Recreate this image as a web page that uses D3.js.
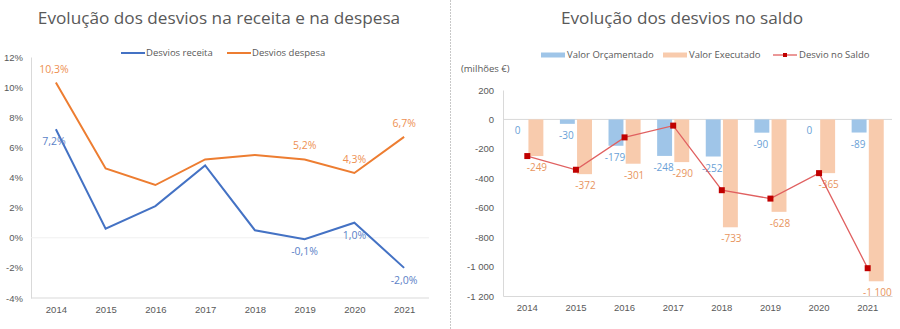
<!DOCTYPE html>
<html>
<head>
<meta charset="utf-8">
<script src="https://cdn.jsdelivr.net/npm/d3@7"></script>
<style>
  body { margin: 0; background: #fff; }
  svg { font-family: "Open Sans", "Noto Sans", sans-serif; }
  .tick text { fill: #595959; font-size: 9.5px; }
  .title { fill: #595959; font-size: 17.2px; }
  .legend { fill: #595959; font-size: 9.5px; }
</style>
</head>
<body>
<svg id="chart" width="900" height="329"></svg>
<script>
const years = ["2014", "2015", "2016", "2017", "2018", "2019", "2020", "2021"];

// left chart: deviations (%)
const desviosReceita = [7.2, 0.6, 2.1, 4.8, 0.5, -0.1, 1.0, -2.0];
const desviosDespesa = [10.3, 4.6, 3.5, 5.2, 5.5, 5.2, 4.3, 6.7];
const labelledYears = ["2014", "2019", "2020", "2021"];
const pctTicks = [-4, -2, 0, 2, 4, 6, 8, 10, 12];

// right chart: balance (milhões €)
const valorOrcamentado = [0, -30, -179, -248, -252, -90, 0, -89];
const valorExecutado = [-249, -372, -301, -290, -733, -628, -365, -1100];
const desvioSaldo = [-249, -342, -122, -42, -481, -538, -365, -1011];
const saldoTicks = [200, 0, -200, -400, -600, -800, -1000, -1200];

const colors = {
  receita: "#4472c4",
  despesa: "#ed7d31",
  receitaLabel: "#5b7fc7",
  despesaLabel: "#ee9052",
  orc: "#9fc5e8",
  exe: "#f8cbad",
  orcLabel: "#6a9fd6",
  exeLabel: "#e8955e",
  saldoLine: "#e06060",
  saldoMarker: "#c00000",
  axis: "#d9d9d9",
};

const svg = d3.select("#chart");
const locale = d3.formatLocale({
  decimal: ",",
  thousands: " ",
  grouping: [3],
  currency: ["", " €"],
  minus: "-",
});
const fmtPct = (v) => locale.format(".1f")(v) + "%";
const fmtNum = locale.format(",");

// divider
svg.append("line")
  .attr("x1", 450.5).attr("x2", 450.5)
  .attr("y1", 0).attr("y2", 329)
  .attr("stroke", "#c8c8c8")
  .attr("stroke-dasharray", "2,1");

/* ---------------- left chart ---------------- */
{
  const margin = { left: 31, right: 429, top: 57, bottom: 298 };
  const x = d3.scalePoint().domain(years).range([margin.left, margin.right]).padding(0.5);
  const y = d3.scaleLinear().domain([-4, 12]).range([margin.bottom, margin.top]);

  svg.append("text").attr("class", "title")
    .attr("x", 219).attr("y", 24).attr("text-anchor", "middle")
    .text("Evolução dos desvios na receita e na despesa");

  const gY = svg.append("g").attr("transform", `translate(${margin.left},0)`)
    .call(d3.axisLeft(y).tickValues(pctTicks).tickSize(0).tickPadding(8)
      .tickFormat((d) => locale.format("d")(d) + "%"));
  gY.select(".domain").attr("stroke", colors.axis);

  const gX = svg.append("g").attr("transform", `translate(0,${margin.bottom})`)
    .call(d3.axisBottom(x).tickSize(0).tickPadding(8));
  gX.select(".domain").attr("stroke", colors.axis).attr("d", `M${margin.left},0H${margin.right}`);

  svg.append("line")
    .attr("x1", margin.left).attr("x2", margin.right)
    .attr("y1", y(0)).attr("y2", y(0))
    .attr("stroke", "#f0f0f0");

  const line = d3.line().x((d, i) => x(years[i])).y((d) => y(d));

  const series = [
    { key: "receita", values: desviosReceita, color: colors.receita, label: colors.receitaLabel, dy: 16 },
    { key: "despesa", values: desviosDespesa, color: colors.despesa, label: colors.despesaLabel, dy: -10 },
  ];

  series.forEach((s) => {
    svg.append("path")
      .attr("d", line(s.values))
      .attr("fill", "none")
      .attr("stroke", s.color)
      .attr("stroke-width", 2);

    svg.append("g").selectAll("text")
      .data(s.values.map((v, i) => [years[i], v]).filter((d) => labelledYears.includes(d[0])))
      .join("text")
      .attr("x", (d) => x(d[0]) - (d[0] === "2014" ? 2 : 0))
      .attr("y", (d) => y(d[1]) + s.dy)
      .attr("text-anchor", "middle")
      .attr("fill", s.label)
      .attr("font-size", 10.5)
      .text((d) => fmtPct(d[1]));
  });

  // legend
  const legend = [
    { name: "Desvios receita", color: colors.receita, x: 121 },
    { name: "Desvios despesa", color: colors.despesa, x: 227 },
  ];
  const lg = svg.append("g").selectAll("g").data(legend).join("g")
    .attr("transform", (d) => `translate(${d.x},53)`);
  lg.append("line").attr("x1", 0).attr("x2", 24)
    .attr("stroke", (d) => d.color).attr("stroke-width", 2);
  lg.append("text").attr("class", "legend")
    .attr("x", 25).attr("dy", "0.35em")
    .text((d) => d.name);
}

/* ---------------- right chart ---------------- */
{
  const margin = { left: 503, right: 892, top: 90, bottom: 296 };
  const x0 = d3.scaleBand().domain(years).range([margin.left, margin.right])
    .paddingInner(0.34).paddingOuter(0.17);
  const x1 = d3.scaleBand().domain(["orc", "exe"]).range([0, x0.bandwidth()]).paddingInner(0.13);
  const y = d3.scaleLinear().domain([-1200, 200]).range([margin.bottom, margin.top]);
  const cx = (yr) => x0(yr) + x0.bandwidth() / 2;

  svg.append("text").attr("class", "title")
    .attr("x", 682).attr("y", 24).attr("text-anchor", "middle")
    .text("Evolução dos desvios no saldo");

  svg.append("text").attr("class", "legend")
    .attr("x", 461).attr("y", 72)
    .text("(milhões €)");

  const gY = svg.append("g").attr("transform", `translate(${margin.left},0)`)
    .call(d3.axisLeft(y).tickValues(saldoTicks).tickSize(0).tickPadding(9)
      .tickFormat(fmtNum));
  gY.select(".domain").attr("stroke", colors.axis);

  const gX = svg.append("g").attr("transform", `translate(0,${margin.bottom})`)
    .call(d3.axisBottom(x0).tickSize(0).tickPadding(8));
  gX.select(".domain").attr("stroke", colors.axis);

  svg.append("line")
    .attr("x1", margin.left).attr("x2", margin.right)
    .attr("y1", y(0)).attr("y2", y(0))
    .attr("stroke", colors.axis);

  const bars = [
    { key: "orc", values: valorOrcamentado, color: colors.orc, label: colors.orcLabel },
    { key: "exe", values: valorExecutado, color: colors.exe, label: colors.exeLabel },
  ];

  bars.forEach((b) => {
    const data = b.values.map((v, i) => [years[i], v]);
    svg.append("g").selectAll("rect").data(data).join("rect")
      .attr("x", (d) => x0(d[0]) + x1(b.key))
      .attr("y", (d) => y(Math.max(0, d[1])))
      .attr("width", x1.bandwidth())
      .attr("height", (d) => Math.abs(y(d[1]) - y(0)))
      .attr("fill", b.color);

    svg.append("g").selectAll("text").data(data).join("text")
      .attr("x", (d) => x0(d[0]) + x1(b.key) + x1.bandwidth() / 2 + (b.key === "exe" ? 1 : -1))
      .attr("y", (d) => y(d[1]) + 15)
      .attr("text-anchor", "middle")
      .attr("fill", b.label)
      .attr("font-size", 10)
      .text((d) => fmtNum(d[1]));
  });

  const line = d3.line().x((d, i) => cx(years[i])).y((d) => y(d));
  svg.append("path")
    .attr("d", line(desvioSaldo))
    .attr("fill", "none")
    .attr("stroke", colors.saldoLine)
    .attr("stroke-width", 1.3);

  svg.append("g").selectAll("rect").data(desvioSaldo).join("rect")
    .attr("x", (d, i) => cx(years[i]) - 3)
    .attr("y", (d) => y(d) - 3)
    .attr("width", 6).attr("height", 6)
    .attr("fill", colors.saldoMarker);

  // legend
  const lg = svg.append("g").attr("transform", "translate(0,55)");
  const items = [
    { name: "Valor Orçamentado", x: 541, type: "bar", color: colors.orc },
    { name: "Valor Executado", x: 663, type: "bar", color: colors.exe },
    { name: "Desvio no Saldo", x: 773, type: "line", color: colors.saldoLine },
  ];
  items.forEach((it) => {
    const g = lg.append("g").attr("transform", `translate(${it.x},0)`);
    if (it.type === "bar") {
      g.append("rect").attr("x", 0).attr("y", -2.5).attr("width", 24).attr("height", 5).attr("fill", it.color);
    } else {
      g.append("line").attr("x1", 0).attr("x2", 24).attr("stroke", it.color).attr("stroke-width", 1.3);
      g.append("rect").attr("x", 10).attr("y", -2).attr("width", 4).attr("height", 4).attr("fill", colors.saldoMarker);
    }
    g.append("text").attr("class", "legend").attr("x", 26).attr("dy", "0.35em").text(it.name);
  });
}
</script>
</body>
</html>
